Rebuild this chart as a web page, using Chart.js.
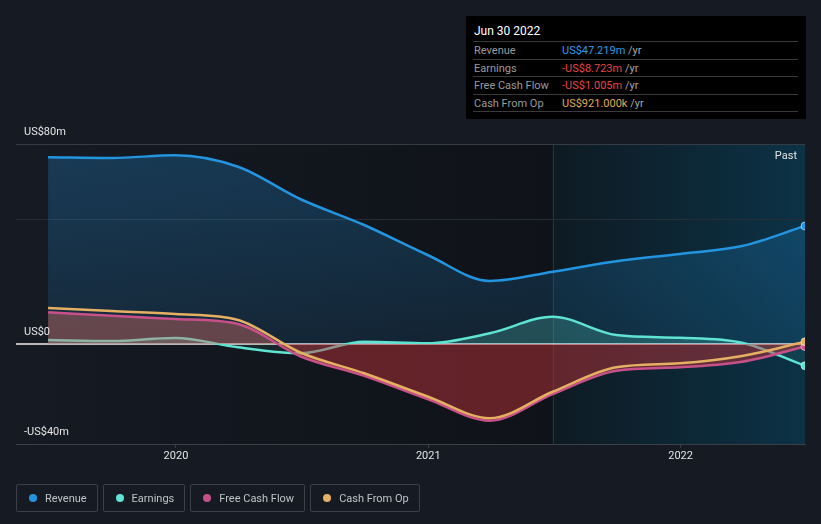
<!DOCTYPE html>
<html lang="en">
<head>
<meta charset="UTF-8">
<title>Revenue, Earnings and Cash Flow</title>
<script src="https://cdn.jsdelivr.net/npm/chart.js@4.4.0/dist/chart.umd.min.js"></script>
<style>
    body {
        margin: 0;
        width: 821px;
        height: 524px;
        overflow: hidden;
        background: #151a23;
        font-family: Roboto, 'Noto Sans', sans-serif;
        position: relative;
    }

    #wrap {
        position: absolute;
        left: 0;
        top: 0;
        width: 821px;
        height: 524px;
    }

    #tip {
        position: absolute;
        left: 466px;
        top: 16px;
        width: 340px;
        height: 103px;
        background: #000;
    }

    #tip .title {
        position: absolute;
        left: 8px;
        top: 7px;
        font-size: 12px;
        line-height: 16px;
        color: #fff;
    }

    #tip .sep {
        position: absolute;
        left: 7px;
        width: 325px;
        height: 1px;
        background: #3a3a3a;
    }

    #tip .row {
        position: absolute;
        left: 8px;
        width: 320px;
        height: 17px;
        line-height: 17px;
        font-size: 11px;
        color: #9b9b9b;
    }

    #tip .row .val {
        position: absolute;
        left: 88px;
        top: 0;
        white-space: nowrap;
    }

    #tip .row .unit {
        color: #a8a8a8;
    }

    #legend {
        position: absolute;
        left: 16px;
        top: 484px;
        display: flex;
        gap: 5px;
    }

    .item {
        box-sizing: border-box;
        height: 28px;
        border: 1px solid #3b4049;
        border-radius: 2px;
        padding: 0 10px 0 12px;
        display: flex;
        align-items: center;
        font-size: 11px;
        color: #bfc3c8;
        white-space: nowrap;
    }

    .item .dot {
        width: 8px;
        height: 8px;
        border-radius: 50%;
        margin-right: 8px;
    }
</style>
</head>
<body>
<div id="wrap"><canvas id="chart"></canvas></div>

<div id="tip">
    <div class="title">Jun 30 2022</div>
    <div class="sep" style="top:25px"></div>
    <div class="row" style="top:26px">Revenue<span class="val"><span style="color:#2b9be8">US$47.219m</span> <span class="unit">/yr</span></span></div>
    <div class="sep" style="top:42.5px"></div>
    <div class="row" style="top:43.5px">Earnings<span class="val"><span style="color:#e64545">-US$8.723m</span> <span class="unit">/yr</span></span></div>
    <div class="sep" style="top:60px"></div>
    <div class="row" style="top:61px">Free Cash Flow<span class="val"><span style="color:#e64545">-US$1.005m</span> <span class="unit">/yr</span></span></div>
    <div class="sep" style="top:77.5px"></div>
    <div class="row" style="top:78.5px">Cash From Op<span class="val"><span style="color:#e0a955">US$921.000k</span> <span class="unit">/yr</span></span></div>
    <div class="sep" style="top:95px"></div>
</div>

<div id="legend"></div>

<script>
    // quarterly trailing-twelve-month values, US$ millions
    const quarterEnds = ['2019-06-30', '2019-09-30', '2019-12-31', '2020-03-31', '2020-06-30', '2020-09-30',
        '2020-12-31', '2021-03-31', '2021-06-30', '2021-09-30', '2021-12-31', '2022-03-31', '2022-06-30'];
    const revenue = [74.7, 74.4, 75.5, 70.9, 57.9, 47.6, 35.6, 25.2, 28.9, 33.1, 36.0, 39.2, 47.2];
    const earnings = [1.6, 1.2, 2.4, -1.3, -3.7, 0.9, 0.3, 4.3, 10.9, 3.6, 2.5, 0.5, -8.7];
    const freeCashFlow = [12.7, 11.3, 10.0, 8.0, -5.0, -12.7, -22.0, -30.7, -20.0, -10.7, -9.3, -7.1, -1.0];
    const cashFromOp = [14.4, 13.2, 12.0, 9.6, -3.5, -11.7, -21.0, -29.7, -19.1, -9.3, -7.7, -4.8, 0.9];

    const yearTicks = [2020, 2021, 2022];
    const yGridValues = [-40, 0, 50, 80];
    const yLabelValues = [80, 0, -40];
    const yLabelTexts = ['US$80m', 'US$0', '-US$40m'];
    const pastStartDate = '2021-06-30';

    const seriesNames = ['Revenue', 'Earnings', 'Free Cash Flow', 'Cash From Op'];
    const seriesColors = ['#2394df', '#5fe3d2', '#c8508a', '#e6b062'];

    function toYear(s) {
        const d = new Date(s + 'T00:00:00Z');
        const y = d.getUTCFullYear();
        const start = Date.UTC(y, 0, 1);
        const end = Date.UTC(y + 1, 0, 1);
        return y + (d - start) / (end - start);
    }

    const xs = quarterEnds.map(toYear);
    const pastStart = toYear(pastStartDate);
    const last = xs.length - 1;

    function points(values) {
        return values.map((v, i) => ({ x: xs[i], y: v }));
    }

    // legend
    const legend = document.getElementById('legend');
    seriesNames.forEach((name, i) => {
        const el = document.createElement('div');
        el.className = 'item';
        el.innerHTML = '<span class="dot" style="background:' + seriesColors[i] + '"></span>' + name;
        legend.appendChild(el);
    });

    const backgroundPlugin = {
        id: 'bg',
        beforeDraw(chart) {
            const ctx = chart.ctx;
            const a = chart.chartArea;
            const px = chart.scales.x.getPixelForValue(pastStart);
            ctx.save();
            let g = ctx.createLinearGradient(a.left, 0, px, 0);
            g.addColorStop(0, '#151a23');
            g.addColorStop(1, '#0f1218');
            ctx.fillStyle = g;
            ctx.fillRect(a.left, a.top, px - a.left, a.bottom - a.top);
            g = ctx.createLinearGradient(px, 0, a.right, 0);
            g.addColorStop(0, '#0e1a22');
            g.addColorStop(1, '#0c3246');
            ctx.fillStyle = g;
            ctx.fillRect(px, a.top, a.right - px, a.bottom - a.top);
            ctx.strokeStyle = '#1f3541';
            ctx.lineWidth = 1;
            ctx.beginPath();
            ctx.moveTo(Math.round(px) + 0.5, a.top);
            ctx.lineTo(Math.round(px) + 0.5, a.bottom);
            ctx.stroke();
            ctx.restore();
        },
        beforeDatasetsDraw(chart) {
            const ctx = chart.ctx;
            const a = chart.chartArea;
            const y0 = chart.scales.y.getPixelForValue(0);
            ctx.save();
            ctx.strokeStyle = '#f4eeee';
            ctx.lineWidth = 1.5;
            ctx.beginPath();
            ctx.moveTo(a.left, y0);
            ctx.lineTo(a.right, y0);
            ctx.stroke();
            ctx.restore();
        },
        afterDraw(chart) {
            const ctx = chart.ctx;
            const a = chart.chartArea;
            ctx.save();
            ctx.font = '11px Roboto, sans-serif';
            ctx.fillStyle = '#e4e4e4';
            ctx.textBaseline = 'middle';
            ctx.textAlign = 'left';
            yLabelValues.forEach((v, i) => {
                ctx.fillText(yLabelTexts[i], a.left + 8, chart.scales.y.getPixelForValue(v) - 12);
            });
            ctx.textAlign = 'right';
            ctx.fillText('Past', a.right - 8, a.top + 12);
            ctx.restore();
        }
    };

    function revenueFill(context) {
        const chart = context.chart;
        const a = chart.chartArea;
        if (!a) return 'rgba(35,148,223,0.2)';
        const g = chart.ctx.createLinearGradient(0, a.top, 0, chart.scales.y.getPixelForValue(0));
        g.addColorStop(0, 'rgba(35,148,223,0.28)');
        g.addColorStop(1, 'rgba(35,148,223,0.13)');
        return g;
    }

    const endPoint = ctx => ctx.dataIndex === last ? 4 : 0;

    function lineSet(label, values, color, order, fill, bg) {
        return {
            label: label,
            data: points(values),
            borderColor: color,
            borderWidth: 2.5,
            backgroundColor: bg || 'rgba(0,0,0,0)',
            fill: fill,
            order: order,
            cubicInterpolationMode: 'monotone',
            pointRadius: endPoint,
            pointBackgroundColor: color,
            pointBorderColor: 'rgba(255,255,255,0.55)',
            pointBorderWidth: 1,
            clip: 0
        };
    }

    new Chart(document.getElementById('chart'), {
        type: 'line',
        data: {
            datasets: [
                lineSet('Revenue', revenue, seriesColors[0], 4, 'origin', revenueFill),
                lineSet('Earnings', earnings, seriesColors[1], 3,
                    { target: 'origin', above: 'rgba(94,227,210,0.22)', below: 'rgba(94,227,210,0.08)' }),
                lineSet('Free Cash Flow', freeCashFlow, seriesColors[2], 2,
                    { target: 'origin', above: 'rgba(210,110,100,0.42)', below: 'rgba(198,52,58,0.46)' }),
                lineSet('Cash From Op', cashFromOp, seriesColors[3], 1, false)
            ]
        },
        options: {
            responsive: true,
            maintainAspectRatio: false,
            animation: false,
            events: [],
            layout: {
                padding: { left: 16, right: 16, top: 144, bottom: 50 }
            },
            plugins: {
                legend: { display: false },
                tooltip: { enabled: false }
            },
            scales: {
                x: {
                    type: 'linear',
                    min: 2019.366,
                    max: xs[last],
                    afterBuildTicks: s => { s.ticks = yearTicks.map(v => ({ value: v })); },
                    afterFit: s => { s.height = 30; },
                    ticks: {
                        callback: v => String(v),
                        color: '#e4e4e4',
                        font: { size: 11, family: 'Roboto' },
                        padding: 2,
                        maxRotation: 0,
                        autoSkip: false
                    },
                    grid: {
                        drawOnChartArea: false,
                        drawTicks: true,
                        tickLength: 4,
                        color: '#3a3f48'
                    },
                    border: { color: '#3a3f48' }
                },
                y: {
                    min: -40,
                    max: 80,
                    afterBuildTicks: s => { s.ticks = yGridValues.map(v => ({ value: v })); },
                    afterFit: s => { s.width = 0; },
                    ticks: { display: false },
                    grid: {
                        drawTicks: false,
                        color: ctx => ctx.tick.value === 80 ? '#363b44'
                            : ctx.tick.value === 50 ? '#272d36' : 'rgba(0,0,0,0)'
                    },
                    border: { display: false }
                }
            }
        },
        plugins: [backgroundPlugin]
    });
</script>
</body>
</html>
